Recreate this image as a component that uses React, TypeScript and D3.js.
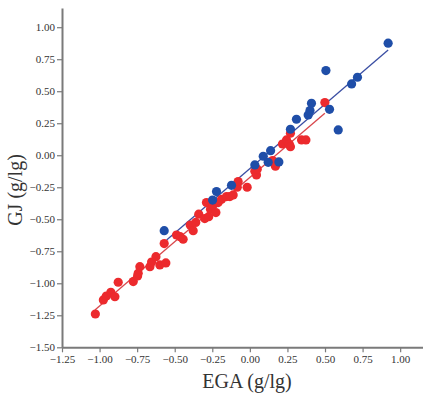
import { useEffect, useRef } from 'react';
import * as d3 from 'd3';

// EGA vs GJ, two groups
const redX = [-1.028, -0.975, -0.955, -0.925, -0.898, -0.876, -0.776, -0.747, -0.743, -0.732, -0.665, -0.654, -0.625, -0.599, -0.559, -0.57, -0.488, -0.464, -0.444, -0.397, -0.377, -0.36, -0.34, -0.3, -0.274, -0.289, -0.262, -0.226, -0.244, -0.211, -0.188, -0.155, -0.133, -0.111, -0.084, -0.078, -0.018, 0.033, 0.044, 0.049, 0.151, 0.17, 0.217, 0.244, 0.262, 0.27, 0.27, 0.344, 0.373, 0.499];
const redY = [-1.24, -1.13, -1.10, -1.07, -1.105, -0.992, -0.987, -0.943, -0.922, -0.87, -0.87, -0.834, -0.792, -0.857, -0.841, -0.69, -0.623, -0.636, -0.656, -0.545, -0.589, -0.525, -0.46, -0.495, -0.48, -0.37, -0.422, -0.448, -0.388, -0.37, -0.344, -0.323, -0.323, -0.31, -0.25, -0.206, -0.25, -0.125, -0.154, -0.109, -0.042, -0.086, 0.088, 0.12, 0.088, 0.172, 0.067, 0.12, 0.12, 0.411];

const blueX = [-0.57, -0.248, -0.222, -0.122, 0.033, 0.089, 0.138, 0.193, 0.122, 0.27, 0.31, 0.388, 0.4, 0.41, 0.506, 0.53, 0.588, 0.677, 0.716, 0.92];
const blueY = [-0.589, -0.35, -0.284, -0.235, -0.076, -0.008, 0.036, -0.052, -0.055, 0.203, 0.281, 0.315, 0.349, 0.406, 0.661, 0.359, 0.198, 0.557, 0.609, 0.875];

// fitted lines: slope, intercept, x range
const redFit = { slope: 1.005, intercept: -0.173, from: -1.031, to: 0.499 };
const blueFit = { slope: 1.007, intercept: -0.104, from: -0.554, to: 0.92 };

const xTicks = [-1.25, -1.0, -0.75, -0.5, -0.25, 0, 0.25, 0.5, 0.75, 1.0];
const yTicks = [-1.5, -1.25, -1.0, -0.75, -0.5, -0.25, 0, 0.25, 0.5, 0.75, 1.0];

const W = 423, H = 395;
const FONT = '"Liberation Serif", "Times New Roman", serif';

const App = () => {
  const svgRef = useRef<SVGSVGElement>(null);

  useEffect(() => {
    const svg = d3.select(svgRef.current);
    svg.selectAll('*').remove();

    const x = d3.scaleLinear().domain([-1.25, 1.15]).range([62, 422.7]);
    const y = d3.scaleLinear().domain([-1.5, 1.15]).range([347.3, 8]);

    const axisColor = '#7a7a7a';

    // axes
    const gx = svg.append('g')
      .attr('transform', `translate(0,${y(-1.5)})`)
      .call(d3.axisBottom(x).tickValues(xTicks).tickFormat(d3.format('.2f')).tickSize(5).tickPadding(3).tickSizeOuter(0));
    const gy = svg.append('g')
      .attr('transform', `translate(${x(-1.25)},0)`)
      .call(d3.axisLeft(y).tickValues(yTicks).tickFormat(d3.format('.2f')).tickSize(5).tickPadding(2).tickSizeOuter(0));

    [gx, gy].forEach(g => {
      g.select('.domain').attr('stroke', axisColor).attr('stroke-width', 2);
      g.selectAll('.tick line').attr('stroke', axisColor).attr('stroke-width', 1.2);
      g.selectAll('.tick text')
        .attr('fill', '#333').attr('font-size', '11px').attr('font-family', FONT);
    });

    // fit lines
    const line = d3.line<number>().x(d => x(d)).y(d => y(d));
    const drawFit = (f: typeof redFit, color: string) => {
      svg.append('path')
        .datum([f.from, f.to])
        .attr('d', d3.line<number>().x(d => x(d)).y(d => y(f.slope * d + f.intercept)))
        .attr('fill', 'none').attr('stroke', color).attr('stroke-width', 1.3);
    };
    void line;
    drawFit(redFit, '#d9474c');
    drawFit(blueFit, '#3a4ea3');

    // points
    svg.append('g').selectAll('circle')
      .data(redX.map((v, i) => [v, redY[i]]))
      .enter().append('circle')
      .attr('cx', d => x(d[0])).attr('cy', d => y(d[1])).attr('r', 4.6)
      .attr('fill', '#ec2a2d');

    svg.append('g').selectAll('circle')
      .data(blueX.map((v, i) => [v, blueY[i]]))
      .enter().append('circle')
      .attr('cx', d => x(d[0])).attr('cy', d => y(d[1])).attr('r', 4.6)
      .attr('fill', '#1f4ea8');

    // axis titles
    svg.append('text')
      .attr('x', 247).attr('y', 388)
      .attr('text-anchor', 'middle')
      .attr('font-family', FONT).attr('font-size', '20px').attr('fill', '#333')
      .text('EGA (g/lg)');

    svg.append('text')
      .attr('transform', `translate(22,190) rotate(-90)`)
      .attr('text-anchor', 'middle')
      .attr('font-family', FONT).attr('font-size', '20px').attr('fill', '#333')
      .text('GJ (g/lg)');
  }, []);

  return (
    <div style={{ position: 'absolute', left: 0, top: 0 }}>
      <svg ref={svgRef} width={W} height={H} style={{ display: 'block', background: '#fff' }} />
    </div>
  );
};

export default App;
